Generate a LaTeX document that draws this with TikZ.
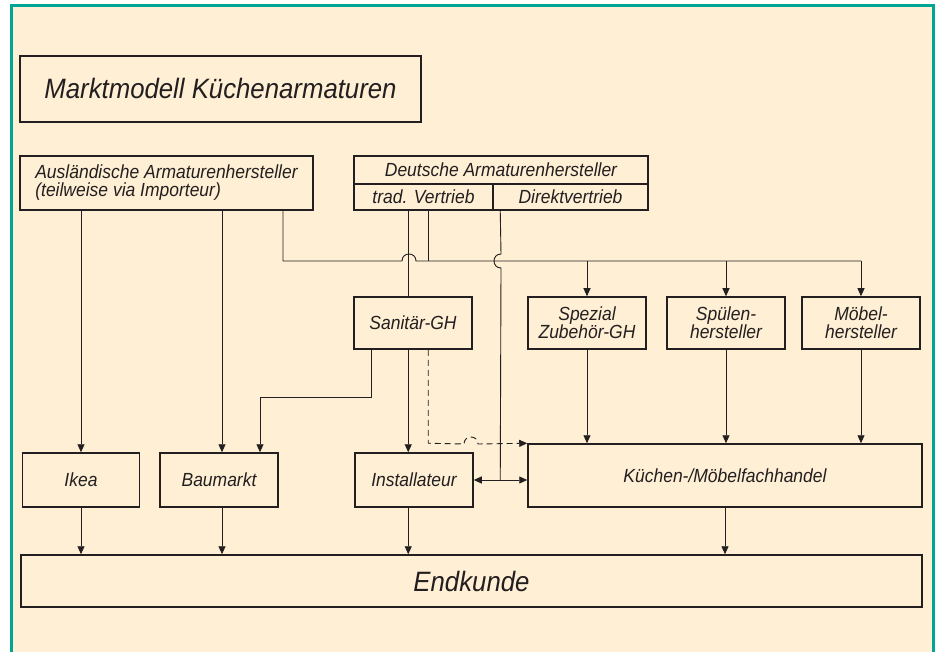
\documentclass[tikz,border=0pt]{standalone}
\usepackage{fontspec}
\setmainfont{Liberation Sans}[FakeStretch=0.92]
\usetikzlibrary{positioning,calc,arrows.meta}

\definecolor{cream}{HTML}{FFEFD4}
\definecolor{frameteal}{HTML}{00A693}
\definecolor{ink}{HTML}{231F20}

\newcommand{\boxfont}{\fontsize{19}{18}\selectfont\itshape}
\newcommand{\bigfont}{\fontsize{28}{30}\selectfont\itshape}

\begin{document}
\begin{tikzpicture}[x=1pt, y=-1pt,
	box/.style={rectangle, draw=ink, line width=1.5pt, fill=cream, text=ink, inner sep=2pt, font=\boxfont, align=center},
	line/.style={draw=ink, line width=0.9pt},
	arr/.style={line, -{Triangle[length=8pt,width=7pt]}},
	dbl/.style={line, {Triangle[length=8pt,width=7pt]}-{Triangle[length=8pt,width=7pt]}},
	hint/.style={arr, dash pattern=on 6pt off 4pt}]

    \useasboundingbox (0,0) rectangle (937,652);
    \fill[white] (0,0) rectangle (937,652);
    \fill[cream] (11.5,6) rectangle (933,652);
    \draw[frameteal, line width=3pt] (11.5,660) -- (11.5,6) -- (933,6) -- (933,660);

    \node (title) at (220.5,89) [box, font=\bigfont, minimum width=401pt, minimum height=66pt] {Marktmodell Küchenarmaturen};

    % Hersteller
    \node (ausl) at (166.5,183) [box, align=left, minimum width=293pt, minimum height=54pt] {Ausländische Armaturenhersteller\\(teilweise via Importeur)};
    \node (dhead) at (501,170) [box, minimum width=294pt, minimum height=28pt] {Deutsche Armaturenhersteller};
    \node (dtrad) at (423.5,197) [box, minimum width=139pt, minimum height=26pt] {trad. Vertrieb};
    \node (ddirekt) at (570.5,197) [box, minimum width=155pt, minimum height=26pt] {Direktvertrieb};

    % Grosshandel und Zulieferer
    \node (sanitaer) at (413,323) [box, minimum width=118pt, minimum height=52pt] {Sanitär-GH};
    \node (spezial) at (587,323) [box, minimum width=118pt, minimum height=52pt] {Spezial\\Zubehör-GH};
    \node (spuelen) at (726,323) [box, minimum width=118pt, minimum height=52pt] {Spülen-\\hersteller};
    \node (moebel) at (861,323) [box, minimum width=118pt, minimum height=52pt] {Möbel-\\hersteller};

    % Handel
    \node (ikea) at (81,480) [box, minimum width=117pt, minimum height=54pt] {Ikea};
    \node (baumarkt) at (219,480) [box, minimum width=118pt, minimum height=54pt] {Baumarkt};
    \node (install) at (414,480) [box, minimum width=118pt, minimum height=54pt] {Installateur};
    \node (kuechen) at (725,475.5) [box, minimum width=394pt, minimum height=63pt] {Küchen-/Möbelfachhandel};

    \node (endkunde) at (471.5,581) [box, font=\bigfont, minimum width=901pt, minimum height=52pt] {Endkunde};

    \coordinate (bus) at (283,261);
    \coordinate (tradA) at ($(dtrad.south west)+(55,0)$);
    \coordinate (tradB) at ($(dtrad.south west)+(75,0)$);
    \coordinate (direkt) at ($(ddirekt.south west)+(8,0)$);

    % Auslaendische Hersteller
    \draw [arr] (ausl.south -| ikea.north) -- (ikea.north);
    \draw [arr] ($(ausl.south -| baumarkt.north)+(3,0)$) -- ($(baumarkt.north)+(3,0)$);
    \draw [line] (bus |- ausl.south) -- (bus) -- (402,261) .. controls (402,251.7) and (416,251.7) .. (416,261) -- (moebel.north |- bus);

    % Deutsche Hersteller
    \draw [line] (tradA) -- (sanitaer.north -| tradA);
    \draw [line] (tradB) -- (tradB |- bus);
    \draw [line] (direkt) -- (501,254) .. controls (491.7,254) and (491.7,268) .. (501,268) -- (direkt |- install.east);
    \draw [dbl] (install.east) -- (install.east -| kuechen.west);

    \foreach \n in {spezial,spuelen,moebel} {
        \draw [arr] (\n.north |- bus) -- (\n.north);
        \draw [arr] (\n.south) -- (\n.south |- kuechen.north);
    }

    % Sanitaer-GH
    \draw [arr] ($(sanitaer.south west)+(18,0)$) |- ($(baumarkt.north)+(41,-55)$) -- ($(baumarkt.north)+(41,0)$);
    \draw [arr] (sanitaer.south -| tradA) -- (install.north -| tradA);
    \draw [hint] (sanitaer.south -| tradB) -- (tradB |- kuechen.north) -- (464,444) .. controls (464,434.7) and (478,434.7) .. (478,444) -- (kuechen.north west);

    % Endkunde
    \draw [arr] (ikea.south) -- (ikea.south |- endkunde.north);
    \draw [arr] ($(baumarkt.south)+(3,0)$) -- ($(baumarkt.south |- endkunde.north)+(3,0)$);
    \draw [arr] (install.south -| tradA) -- (endkunde.north -| tradA);
    \draw [arr] (kuechen.south) -- (kuechen.south |- endkunde.north);

\end{tikzpicture}
\end{document}
